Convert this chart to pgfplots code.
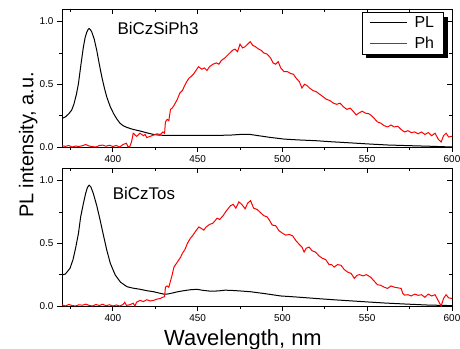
\documentclass[border=0pt]{standalone}
\usepackage{pgfplots}
\pgfplotsset{compat=1.18}
\usepackage{fontspec}
\setmainfont{Liberation Sans}
\pgfdeclarelayer{background}
\pgfsetlayers{background,main}

\pgfplotstableread{
x y
370 0.228
372 0.24
374 0.265
375.7 0.294
377 0.34
378.5 0.42
379.7 0.505
381 0.64
382.6 0.796
383.6 0.87
384.6 0.915
385.5 0.94
386 0.944
386.8 0.935
387.6 0.915
389 0.86
390.5 0.77
392 0.66
393.5 0.558
395 0.47
396.4 0.399
398.5 0.32
400.4 0.267
402.5 0.22
404.3 0.188
406.3 0.168
408.3 0.156
412 0.14
416.2 0.127
420 0.113
424 0.10
427 0.095
430 0.093
440 0.092
450 0.093
460 0.092
469.4 0.095
475 0.1
481 0.1
486 0.09
492 0.078
501 0.063
510 0.056
520 0.05
528.6 0.042
540 0.033
551 0.024
562 0.016
574 0.011
587 0.006
600 0.0
}\plA

\pgfplotstableread{
x y
370 0.01
372 0.005
374 0.012
376 0.0
378 0.008
380 0.004
382 0.01
384 0.02
386 0.008
388 0.003
390 0.0
392 0.012
394 0.015
396 0.006
398 0.014
400 0.004
402 0.012
404 0.0
406 0.02
408 0.03
409 0.0
410 0.005
411 0.04
412 0.11
414 0.085
416 0.11
418 0.09
419 0.1
420 0.075
422 0.085
424 0.095
426 0.105
428 0.1
429.5 0.12
430.5 0.11
431 0.2
432 0.22
433 0.21
434 0.3
435 0.31
436 0.33
438 0.38
439.5 0.43
441 0.45
442 0.48
443.5 0.52
445 0.55
446 0.56
447.5 0.58
449 0.61
450.5 0.64
451.5 0.63
452.5 0.62
454 0.63
455.5 0.61
457 0.64
459 0.66
461 0.67
462.5 0.66
464 0.69
466 0.71
467.5 0.73
469 0.75
470.5 0.77
472 0.78
473.5 0.76
475 0.82
476.5 0.79
478 0.8
479.5 0.82
481 0.84
482.5 0.81
484 0.8
486 0.78
487.5 0.77
489 0.75
491 0.74
493 0.71
494.5 0.67
496 0.66
497.5 0.68
499 0.63
501 0.6
503 0.6
505 0.585
506.5 0.58
508 0.55
510 0.52
511.5 0.47
513 0.5
514.5 0.49
516 0.47
518 0.45
520 0.44
522 0.42
524 0.4
526 0.38
528 0.37
530 0.35
532 0.34
534 0.35
536 0.32
538 0.3
540 0.31
542 0.28
543.5 0.255
545 0.27
547 0.285
549 0.27
551 0.265
552.5 0.25
554 0.23
556 0.2
558 0.19
560 0.17
562 0.16
564 0.175
566 0.16
568 0.165
570 0.14
572 0.12
574 0.13
576 0.115
578 0.12
580 0.105
582 0.12
584 0.1
586 0.115
588 0.09
590 0.11
592 0.06
593.6 0.04
595 0.09
596.5 0.11
598 0.08
600 0.085
}\phA

\pgfplotstableread{
x y
370 0.247
372 0.255
374.7 0.3
376.5 0.37
378 0.46
379.7 0.578
381 0.71
382.6 0.817
384 0.9
385 0.945
386 0.963
387 0.95
388.5 0.896
390.5 0.8
392.5 0.684
394.5 0.56
396.4 0.446
398.5 0.34
401.4 0.247
404.5 0.19
408.3 0.154
412 0.142
416.2 0.133
420 0.122
424 0.114
427 0.104
430 0.095
432 0.095
434 0.1
438 0.113
441.8 0.122
446 0.13
449.7 0.133
453 0.125
457.6 0.118
462 0.12
466 0.126
469.4 0.125
475 0.12
481 0.114
490 0.098
499 0.08
508 0.072
518.7 0.061
530 0.05
548.3 0.034
560 0.024
572 0.016
585 0.008
600 0.003
}\plB

\pgfplotstableread{
x y
370 0.01
372 0.0
374 0.012
376 0.004
378 0.0
380 0.01
382 0.006
384 0.015
386 0.005
388 0.0
390 0.012
392 0.004
394 0.014
396 0.002
398 0.01
400 0.0
402 0.008
404 0.0
406 0.012
407 0.03
408 0.005
410 0.01
412 0.022
413 0.0
414 0.03
416 0.045
418 0.035
420 0.05
422 0.04
424 0.045
426 0.055
428 0.06
429.5 0.07
430.5 0.075
431 0.15
432 0.16
433 0.15
434 0.2
435 0.25
436 0.31
438 0.35
440 0.39
441 0.42
442.5 0.45
444 0.5
445.7 0.54
447 0.56
449 0.6
450.7 0.63
452 0.62
453.6 0.605
455 0.63
457 0.65
459 0.66
461.5 0.7
463 0.69
465 0.72
467 0.76
469.4 0.8
471 0.81
472.5 0.78
474.3 0.83
476 0.81
478 0.775
479.5 0.82
481.2 0.84
483 0.78
485 0.77
487 0.745
489 0.72
491 0.71
492.5 0.68
494 0.645
496 0.64
498 0.6
500 0.58
502 0.565
504 0.57
506 0.56
508 0.52
510 0.49
511.5 0.47
512.8 0.43
514 0.46
515.7 0.47
517.5 0.44
519.5 0.43
521.5 0.4
523.6 0.38
525.5 0.37
527.5 0.33
529 0.33
530.5 0.31
532.5 0.33
534.5 0.325
536.5 0.29
538.5 0.27
540.5 0.26
542.4 0.22
544 0.245
545.5 0.25
547.5 0.24
549.5 0.25
552 0.23
554 0.2
556 0.17
558 0.165
560 0.15
562 0.14
564 0.16
566 0.15
568 0.145
570 0.14
571 0.1
572 0.087
574 0.09
576 0.08
578 0.095
580 0.085
582 0.09
584 0.07
586 0.095
588 0.08
590 0.09
592 0.04
593.6 0.0
595 0.06
596.5 0.09
598 0.065
600 0.06
}\phB

\pgfplotsset{
  panel/.style={
    scale only axis, width=390bp, height=138bp,
    xmin=370, xmax=600, ymin=0, ymax=1.1,
    xtick={400,450,500,550,600},
    minor xtick={375,425,475,525,575},
    ytick={0,0.5,1},
    minor ytick={0.25,0.75},
    axis line style={line width=0.8bp},
    major tick length=5bp, minor tick length=3bp,
    every tick/.style={line width=0.8bp, black},
    tick label style={font=\fontsize{10}{12}\selectfont},
    /pgf/number format/assume math mode=true,
    yticklabel style={/pgf/number format/fixed, /pgf/number format/fixed zerofill, /pgf/number format/precision=1},
    xticklabel style={/pgf/number format/1000 sep={}},
  },
  mainpanel/.style={panel, xtick pos=left, ytick pos=left, tick align=outside},
  shadowpanel/.style={panel, xtick pos=right, ytick pos=right, tick align=inside,
    xticklabels={}, yticklabels={}},
}

\begin{document}
\begin{tikzpicture}
% top panel
\begin{axis}[shadowpanel, at={(62bp,-9bp)}, anchor=north west]
\end{axis}
\begin{axis}[mainpanel, at={(62bp,-9bp)}, anchor=north west,
  legend style={name=leg, at={(rel axis cs:0.769,0.976)}, anchor=north west,
    font=\fontsize{16}{18}\selectfont, inner xsep=7bp, inner ysep=2bp, row sep=4bp},
  legend cell align=left,
  legend image post style={xscale=2.2},
]
\addplot[black, line width=1bp] table[x=x,y=y] {\plA};
\addlegendentry{\hspace*{5bp}PL}
\addplot[red, line width=1bp] table[x=x,y=y] {\phA};
\addlegendentry{\hspace*{5bp}Ph}
\end{axis}
\begin{pgfonlayer}{background}
\fill[black] ([xshift=4.5bp,yshift=-4.3bp]leg.south west) rectangle ([xshift=4.5bp,yshift=-4.3bp]leg.north east);
\end{pgfonlayer}
% bottom panel
\begin{axis}[shadowpanel, at={(62bp,-168bp)}, anchor=north west]
\end{axis}
\begin{axis}[mainpanel, at={(62bp,-168bp)}, anchor=north west]
\addplot[black, line width=1bp] table[x=x,y=y] {\plB};
\addplot[red, line width=1bp] table[x=x,y=y] {\phB};
\end{axis}
\node[anchor=base west, inner sep=0, font=\fontsize{17}{20}\selectfont] at (117.3bp,-34bp) {BiCzSiPh3};
\node[anchor=base west, inner sep=0, font=\fontsize{17}{20}\selectfont] at (112.7bp,-199.3bp) {BiCzTos};
\node[anchor=base, inner sep=0, font=\fontsize{22}{26}\selectfont] at (243bp,-345.7bp) {Wavelength, nm};
\node[anchor=base, rotate=90, inner sep=0, font=\fontsize{20}{24}\selectfont] at (33.3bp,-145bp) {PL intensity, a.u.};
\pgfresetboundingbox
\useasboundingbox (0,0) rectangle (460bp,-349bp);
\end{tikzpicture}
\end{document}
